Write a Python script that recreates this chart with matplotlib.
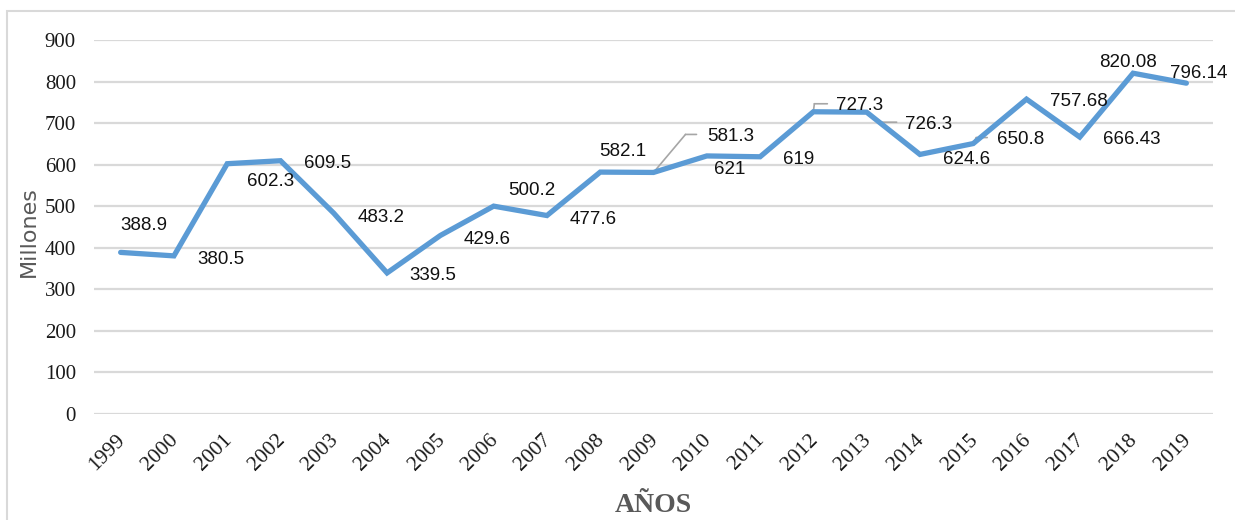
import matplotlib
matplotlib.use("Agg")
import matplotlib.pyplot as plt
from matplotlib.patches import Rectangle
from matplotlib.transforms import offset_copy, ScaledTranslation

years = ["1999", "2000", "2001", "2002", "2003", "2004", "2005", "2006", "2007", "2008",
         "2009", "2010", "2011", "2012", "2013", "2014", "2015", "2016", "2017", "2018", "2019"]
values = [388.9, 380.5, 602.3, 609.5, 483.2, 339.5, 429.6, 500.2, 477.6, 582.1,
          581.3, 621, 619, 727.3, 726.3, 624.6, 650.8, 757.68, 666.43, 820.08, 796.14]
labels = ["388.9", "380.5", "602.3", "609.5", "483.2", "339.5", "429.6", "500.2", "477.6", "582.1",
          "581.3", "621", "619", "727.3", "726.3", "624.6", "650.8", "757.68", "666.43", "820.08", "796.14"]
yticks = [0, 100, 200, 300, 400, 500, 600, 700, 800, 900]

# label offsets in pixels (dx right, dy up), alignment
label_pos = {
    0: (23, 29, "center"), 1: (47, -2, "center"), 2: (43, -16, "center"), 3: (47, -1, "center"),
    4: (47, -2, "center"), 5: (46, -1, "center"), 6: (47, -2, "center"), 7: (38, 18, "center"),
    8: (46, -2, "center"), 9: (23, 23, "center"), 10: (54, 38, "left"), 11: (23, -12, "center"),
    12: (39, -1, "center"), 13: (23, 8, "left"), 14: (38, -10, "left"), 15: (47, -3, "center"),
    16: (24, 6, "left"), 17: (52, 0, "center"), 18: (52, 0, "center"), 19: (-5, 13, "center"),
    20: (12, 12, "center"),
}
leaders = {
    10: [(0, 0), (32, 38), (43, 38)],
    13: [(0, 0), (1, 8), (14, 8)],
    14: [(0, 0), (15, -10), (30, -10)],
    16: [(0, 0), (3, 6), (14, 6)],
}

W, H = 1235, 520
fig = plt.figure(figsize=(W / 100, H / 100), dpi=100)
fig.patch.set_facecolor("white")
fig.add_artist(Rectangle((7 / W, -0.02), 1.1, 1 - 11 / H + 0.02, transform=fig.transFigure,
                         fill=False, edgecolor="#D9D9D9", linewidth=1.5))

ax = fig.add_axes([94 / W, 1 - 414 / H, (1213 - 94) / W, (414 - 40) / H])
x = list(range(len(years)))
ax.set_xlim(-0.5, len(years) - 0.5)
ax.set_ylim(0, 900)
ax.set_yticks(yticks)
ax.yaxis.grid(True, color="#D9D9D9", linewidth=1.6)
ax.set_axisbelow(True)
for s in ax.spines.values():
    s.set_visible(False)
ax.tick_params(axis="both", length=0)
ax.tick_params(axis="y", pad=13)
ax.set_yticklabels([str(t) for t in yticks], fontfamily="Liberation Serif", fontsize=15, color="#1a1a1a")
ax.set_xticks(x)
ax.set_xticklabels(years, rotation=45, ha="right", rotation_mode="anchor",
                   fontfamily="Liberation Serif", fontsize=15.5, color="#1a1a1a")
ax.tick_params(axis="x", pad=12)
shift = ScaledTranslation(-5 / 100, 0, fig.dpi_scale_trans)
for t in ax.get_xticklabels():
    t.set_transform(t.get_transform() + shift)

ax.plot(x, values, color="#5B9BD5", linewidth=3.8, solid_joinstyle="miter", solid_capstyle="round", zorder=3)

for i, (v, lab) in enumerate(zip(values, labels)):
    dx, dy, ha = label_pos[i]
    ax.annotate(lab, xy=(i, v), xytext=(dx, dy), textcoords="offset pixels",
                ha=ha, va="center_baseline", fontsize=13.5, fontfamily="Liberation Sans",
                color="#111111", zorder=4)

for i, pts in leaders.items():
    for (ax0, ay0), (ax1, ay1) in zip(pts[:-1], pts[1:]):
        ax.annotate("", xy=(i, values[i]),
                    xycoords=offset_copy(ax.transData, fig=fig, x=ax0, y=ay0, units="dots"),
                    xytext=(i, values[i]),
                    textcoords=offset_copy(ax.transData, fig=fig, x=ax1, y=ay1, units="dots"),
                    arrowprops=dict(arrowstyle="-", color="#A6A6A6", linewidth=1.2,
                                    shrinkA=0, shrinkB=0), zorder=2)

fig.text(29 / W, 1 - 232 / H, "Millones", rotation=90, ha="center", va="center",
         fontsize=16, color="#595959", fontfamily="DejaVu Sans")
fig.text(653 / W, 1 - 505 / H, "AÑOS", ha="center", va="center", fontsize=20,
         fontweight="bold", color="#595959", fontfamily="Liberation Serif")

fig.savefig("out.png", dpi=100)
